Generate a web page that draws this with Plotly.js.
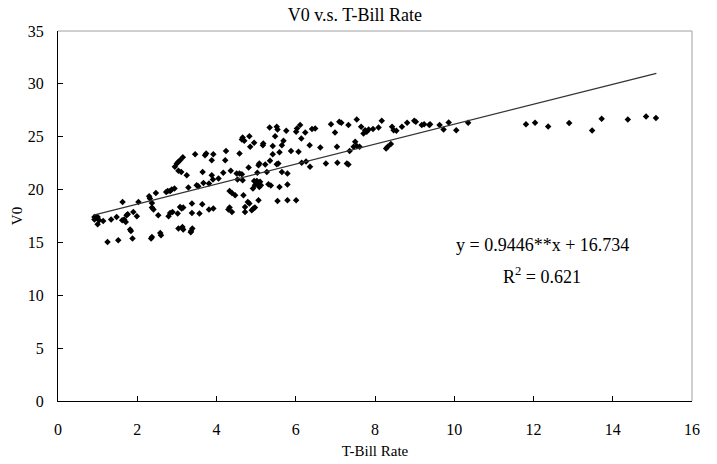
<!DOCTYPE html>
<html>
<head>
<meta charset="utf-8">
<script src="https://cdn.plot.ly/plotly-3.0.1.min.js"></script>
<style>html,body{margin:0;padding:0;background:#fff;}#chart{width:717px;height:464px;}</style>
</head>
<body>
<div id="chart"></div>
<script>
// T-Bill rate (x) and V0 (y) observations
const tbill = [
  0.92,0.96,1.00,0.92,1.04,1.00,1.14,1.34,1.48,1.62,1.67,1.71,1.73,1.76,1.63,1.90,1.99,2.03,2.30,2.32,
  2.37,2.37,2.41,2.47,2.53,2.73,2.77,2.83,2.87,2.94,2.79,2.83,2.89,3.02,3.08,3.12,3.16,3.29,3.38,3.38,
  3.50,3.54,3.57,3.67,3.64,3.81,3.81,3.04,3.11,3.25,3.65,1.82,1.84,1.25,1.52,1.88,2.35,2.37,2.58,2.60,
  3.04,3.14,3.16,3.36,3.39,3.35,
  2.95,3.00,3.04,3.08,3.88,4.22,3.15,3.46,
  5.34,5.52,5.54,5.76,6.03,6.11,6.01,5.48,4.66,4.64,4.70,4.83,4.95,4.85,5.18,5.17,5.42,5.65,5.69,5.88,
  6.07,3.74,3.71,3.92,4.24,4.58,5.42,5.59,5.35,5.56,5.52,5.08,5.23,5.06,4.81,3.88,3.91,4.05,4.17,4.36,
  4.51,4.58,4.64,4.53,4.66,5.03,5.27,5.65,5.79,5.02,4.95,5.00,5.06,5.10,4.97,5.08,5.12,4.92,5.31,5.37,
  5.59,5.79,4.33,4.39,4.47,4.68,4.79,4.83,4.72,5.06,5.54,5.79,6.01,3.92,4.33,4.30,4.39,4.72,4.89,4.93,
  4.97,
  6.24,6.14,6.41,6.49,6.35,6.62,6.89,6.99,7.10,7.15,7.33,7.54,7.65,7.71,7.75,7.79,7.84,7.95,8.09,8.17,
  8.43,8.47,8.54,8.68,8.81,8.99,9.03,9.18,9.24,9.37,9.39,9.63,9.73,9.86,10.05,10.35,7.04,7.50,7.46,7.54,
  7.61,7.36,8.28,8.32,8.40,6.15,6.26,6.36,6.76,7.05,7.29,7.33,
  11.81,12.04,12.37,12.90,13.48,13.72,14.38,14.84,15.09
];
const v0 = [
  17.41,17.32,17.41,17.16,17.10,16.72,17.03,17.16,17.41,17.10,17.16,16.94,17.57,17.67,18.83,17.88,17.48,18.83,19.37,19.15,
  18.74,18.30,18.11,19.68,17.57,19.78,19.87,19.87,20.00,20.10,17.48,17.79,17.88,17.73,18.36,18.20,18.30,20.19,18.68,17.79,
  20.41,20.32,17.73,20.63,18.61,18.11,20.57,21.77,21.67,21.36,21.67,16.22,16.08,15.04,15.20,15.36,15.36,15.52,15.90,15.68,
  16.31,16.46,16.22,16.08,16.31,15.96,
  22.15,22.47,22.62,22.78,22.78,22.78,23.05,23.35,
  25.88,25.94,25.69,25.56,25.78,26.10,25.46,25.05,24.93,24.74,24.61,25.05,24.42,24.04,24.36,24.20,24.11,24.20,24.61,23.66,
  23.57,23.42,23.25,23.35,23.66,23.42,23.35,23.54,22.72,22.47,22.40,22.47,22.37,22.31,22.09,21.36,20.95,21.05,21.58,21.77,
  21.52,21.52,21.46,20.95,20.89,21.58,21.67,21.67,21.52,20.82,20.82,20.73,20.63,20.73,20.41,20.25,20.41,20.10,20.51,20.38,
  20.25,20.48,19.87,19.68,19.47,19.47,18.83,18.68,18.36,18.99,18.93,18.99,18.99,18.20,18.30,18.11,17.88,17.88,18.05,18.20,
  18.30,
  25.40,24.83,25.72,25.78,24.20,23.98,26.19,25.40,26.41,26.32,26.10,26.63,25.94,25.31,25.62,25.46,25.69,25.72,25.88,26.50,
  25.94,25.62,25.56,25.94,26.32,26.50,26.41,26.10,26.19,26.10,26.19,26.10,25.69,26.35,25.62,26.32,24.04,24.52,24.04,24.11,
  24.04,23.66,23.89,24.04,24.30,22.53,22.66,22.15,22.47,22.53,22.47,22.37,
  26.19,26.32,25.97,26.29,25.59,26.70,26.63,26.92,26.76
];
// Fitted trend line (from the equation shown on the chart)
const slope = 0.9446;
const intercept = 16.734;
const trendX = [0.9, 15.1];
const trendY = trendX.map(x => slope * x + intercept);

const xTicks = [0, 2, 4, 6, 8, 10, 12, 14, 16];
const yTicks = [0, 5, 10, 15, 20, 25, 30, 35];

const FONT = 'Liberation Serif, Times New Roman, serif';

const traces = [
  {
    type: 'scatter', mode: 'markers', x: tbill, y: v0,
    marker: {symbol: 'diamond', size: 5, color: '#000'},
    hoverinfo: 'x+y', showlegend: false
  },
  {
    type: 'scatter', mode: 'lines', x: trendX, y: trendY,
    line: {color: '#333', width: 1.3}, showlegend: false
  }
];

const layout = {
  width: 717, height: 464,
  margin: {l: 58, r: 25, t: 31, b: 63},
  paper_bgcolor: '#fff', plot_bgcolor: '#fff',
  font: {family: FONT, size: 16, color: '#000'},
  title: {
    text: 'V0 v.s. T-Bill Rate',
    font: {family: FONT, size: 18, color: '#000'},
    xref: 'container', x: 0.495, xanchor: 'center',
    yref: 'container', y: 1 - 15/464, yanchor: 'middle'
  },
  xaxis: {
    range: [0, 16], tickvals: xTicks, ticktext: xTicks.map(String),
    showline: true, linecolor: '#000', linewidth: 1,
    ticks: 'inside', ticklen: 5, tickcolor: '#000', tickwidth: 1,
    showgrid: false, zeroline: false,
    tickfont: {family: FONT, size: 16, color: '#000'},
    ticklabelstandoff: 14,
    title: {text: 'T-Bill Rate', font: {family: FONT, size: 15, color: '#000'}, standoff: 8}
  },
  yaxis: {
    range: [0, 35], tickvals: yTicks, ticktext: yTicks.map(String),
    showline: true, linecolor: '#000', linewidth: 1,
    ticks: 'inside', ticklen: 5, tickcolor: '#000', tickwidth: 1,
    showgrid: false, zeroline: false,
    tickfont: {family: FONT, size: 16, color: '#000'},
    ticklabelstandoff: 10,
    title: {text: 'V0', font: {family: FONT, size: 15, color: '#000'}, standoff: 1}
  },
  shapes: [
    {type: 'line', xref: 'paper', yref: 'paper', x0: 0, x1: 1, y0: 1, y1: 1,
     line: {color: '#a0a0a0', width: 1}, layer: 'below'},
    {type: 'line', xref: 'paper', yref: 'paper', x0: 1, x1: 1, y0: 0, y1: 1,
     line: {color: '#a0a0a0', width: 1}, layer: 'below'}
  ],
  annotations: [
    {xref: 'paper', yref: 'paper', x: (542-58)/634, y: (401-245)/370,
     text: 'y = 0.9446**x + 16.734', showarrow: false, xanchor: 'center', yanchor: 'middle',
     font: {family: FONT, size: 18, color: '#000'}},
    {xref: 'paper', yref: 'paper', x: (542-58)/634, y: (401-275)/370,
     text: 'R<sup>2</sup> = 0.621', showarrow: false, xanchor: 'center', yanchor: 'middle',
     font: {family: FONT, size: 18, color: '#000'}}
  ]
};

Plotly.newPlot('chart', traces, layout, {displayModeBar: false, staticPlot: true});
</script>
</body>
</html>
